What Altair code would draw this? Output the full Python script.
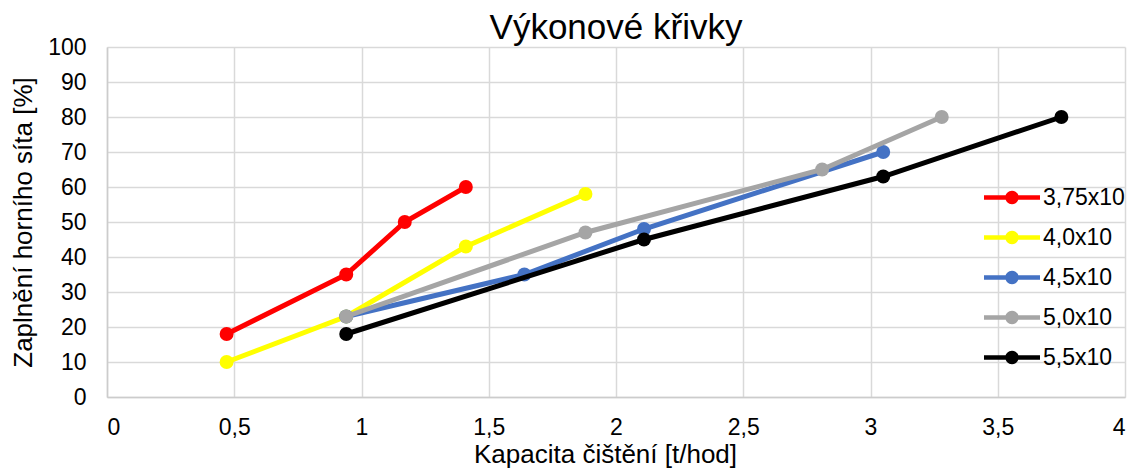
import altair as alt
import pandas as pd

series = ["3,75x10", "4,0x10", "4,5x10", "5,0x10", "5,5x10"]
colors = ["#FF0000", "#FFFF00", "#4472C4", "#A5A5A5", "#000000"]
x_red = [0.47, 0.94, 1.17, 1.41]
y_red = [18, 35, 50, 60]
x_yellow = [0.47, 0.94, 1.41, 1.88]
y_yellow = [10, 23, 43, 58]
x_blue = [0.94, 1.64, 2.11, 3.05]
y_blue = [23, 35, 48, 70]
x_grey = [0.94, 1.88, 2.81, 3.28]
y_grey = [23, 47, 65, 80]
x_black = [0.94, 2.11, 3.05, 3.75]
y_black = [18, 45, 63, 80]
x_ticks = [0, 0.5, 1, 1.5, 2, 2.5, 3, 3.5, 4]
y_ticks = [0, 10, 20, 30, 40, 50, 60, 70, 80, 90, 100]

title_text = "Výkonové křivky"
x_title = "Kapacita čištění [t/hod]"
y_title = "Zaplnění horního síta [%]"

FONT = "Liberation Sans"

rows = []
for name, xs, ys in zip(series,
                        [x_red, x_yellow, x_blue, x_grey, x_black],
                        [y_red, y_yellow, y_blue, y_grey, y_black]):
    for i, (xv, yv) in enumerate(zip(xs, ys)):
        rows.append({"s": name, "x": xv, "y": yv, "i": i})
df = pd.DataFrame(rows)

# legend glyph: short line with a dot in the middle (units of 10 px)
legend_path = ("M-1.15,-0.23 L4.45,-0.23 L4.45,0.23 L-1.15,0.23 Z "
               "M0.98,0 A0.67,0.67 0 1,1 2.32,0 A0.67,0.67 0 1,1 0.98,0 Z")

x_enc = alt.X("x:Q", scale=alt.Scale(domain=[0, 4], nice=False),
              axis=alt.Axis(values=x_ticks, title=x_title,
                            labelExpr="replace(toString(datum.value), '.', ',')",
                            labelPadding=19, titlePadding=2,
                            titleX=498, titleAnchor="start", titleAlign="center"))
y_enc = alt.Y("y:Q", scale=alt.Scale(domain=[0, 100], nice=False),
              axis=alt.Axis(values=y_ticks, title=y_title,
                            labelPadding=21, titlePadding=11))
color_scale = alt.Scale(domain=series, range=colors)
# line colours: same order (alphabetical domain from data), no explicit domain
stroke_scale = alt.Scale(range=colors)

legend = alt.Legend(title=None, orient="none", legendX=877, legendY=139,
                    symbolType=legend_path, symbolSize=400, symbolStrokeWidth=0,
                    labelOffset=36, labelFont=FONT,
                    labelFontSize=23, labelColor="#000000", rowPadding=16,
                    padding=0, symbolOpacity=1, labelLimit=300)

base = alt.Chart(df)
layers = []
for name in series:
    sub = base.transform_filter(alt.datum.s == name)
    line = sub.mark_line(strokeWidth=5).encode(
        x=x_enc, y=y_enc,
        stroke=alt.Stroke("s:N", scale=stroke_scale, legend=None),
        order="i:Q")
    pts = sub.mark_circle(size=195, opacity=1).encode(
        x=x_enc, y=y_enc,
        color=alt.Color("s:N", scale=color_scale, legend=legend))
    layers += [line, pts]

chart = alt.layer(*layers).properties(
    width=1018, height=350,
    title=alt.Title(title_text, font=FONT, fontSize=35, fontWeight="normal",
                    color="#000000", offset=-10),
    padding={"left": 2, "top": 3, "right": 2, "bottom": 2},
).configure_axis(
    gridColor="#D9D9D9", gridWidth=1.5, domainColor="#CCCCCC", domainWidth=1.5,
    ticks=False, tickSize=0, labelFont=FONT, labelFontSize=23, labelColor="#000000",
    titleFont=FONT, titleFontSize=26, titleFontWeight="normal", titleColor="#000000",
).configure_view(strokeWidth=0)

chart.save("out.html", embed_options={"renderer": "svg", "actions": False})
